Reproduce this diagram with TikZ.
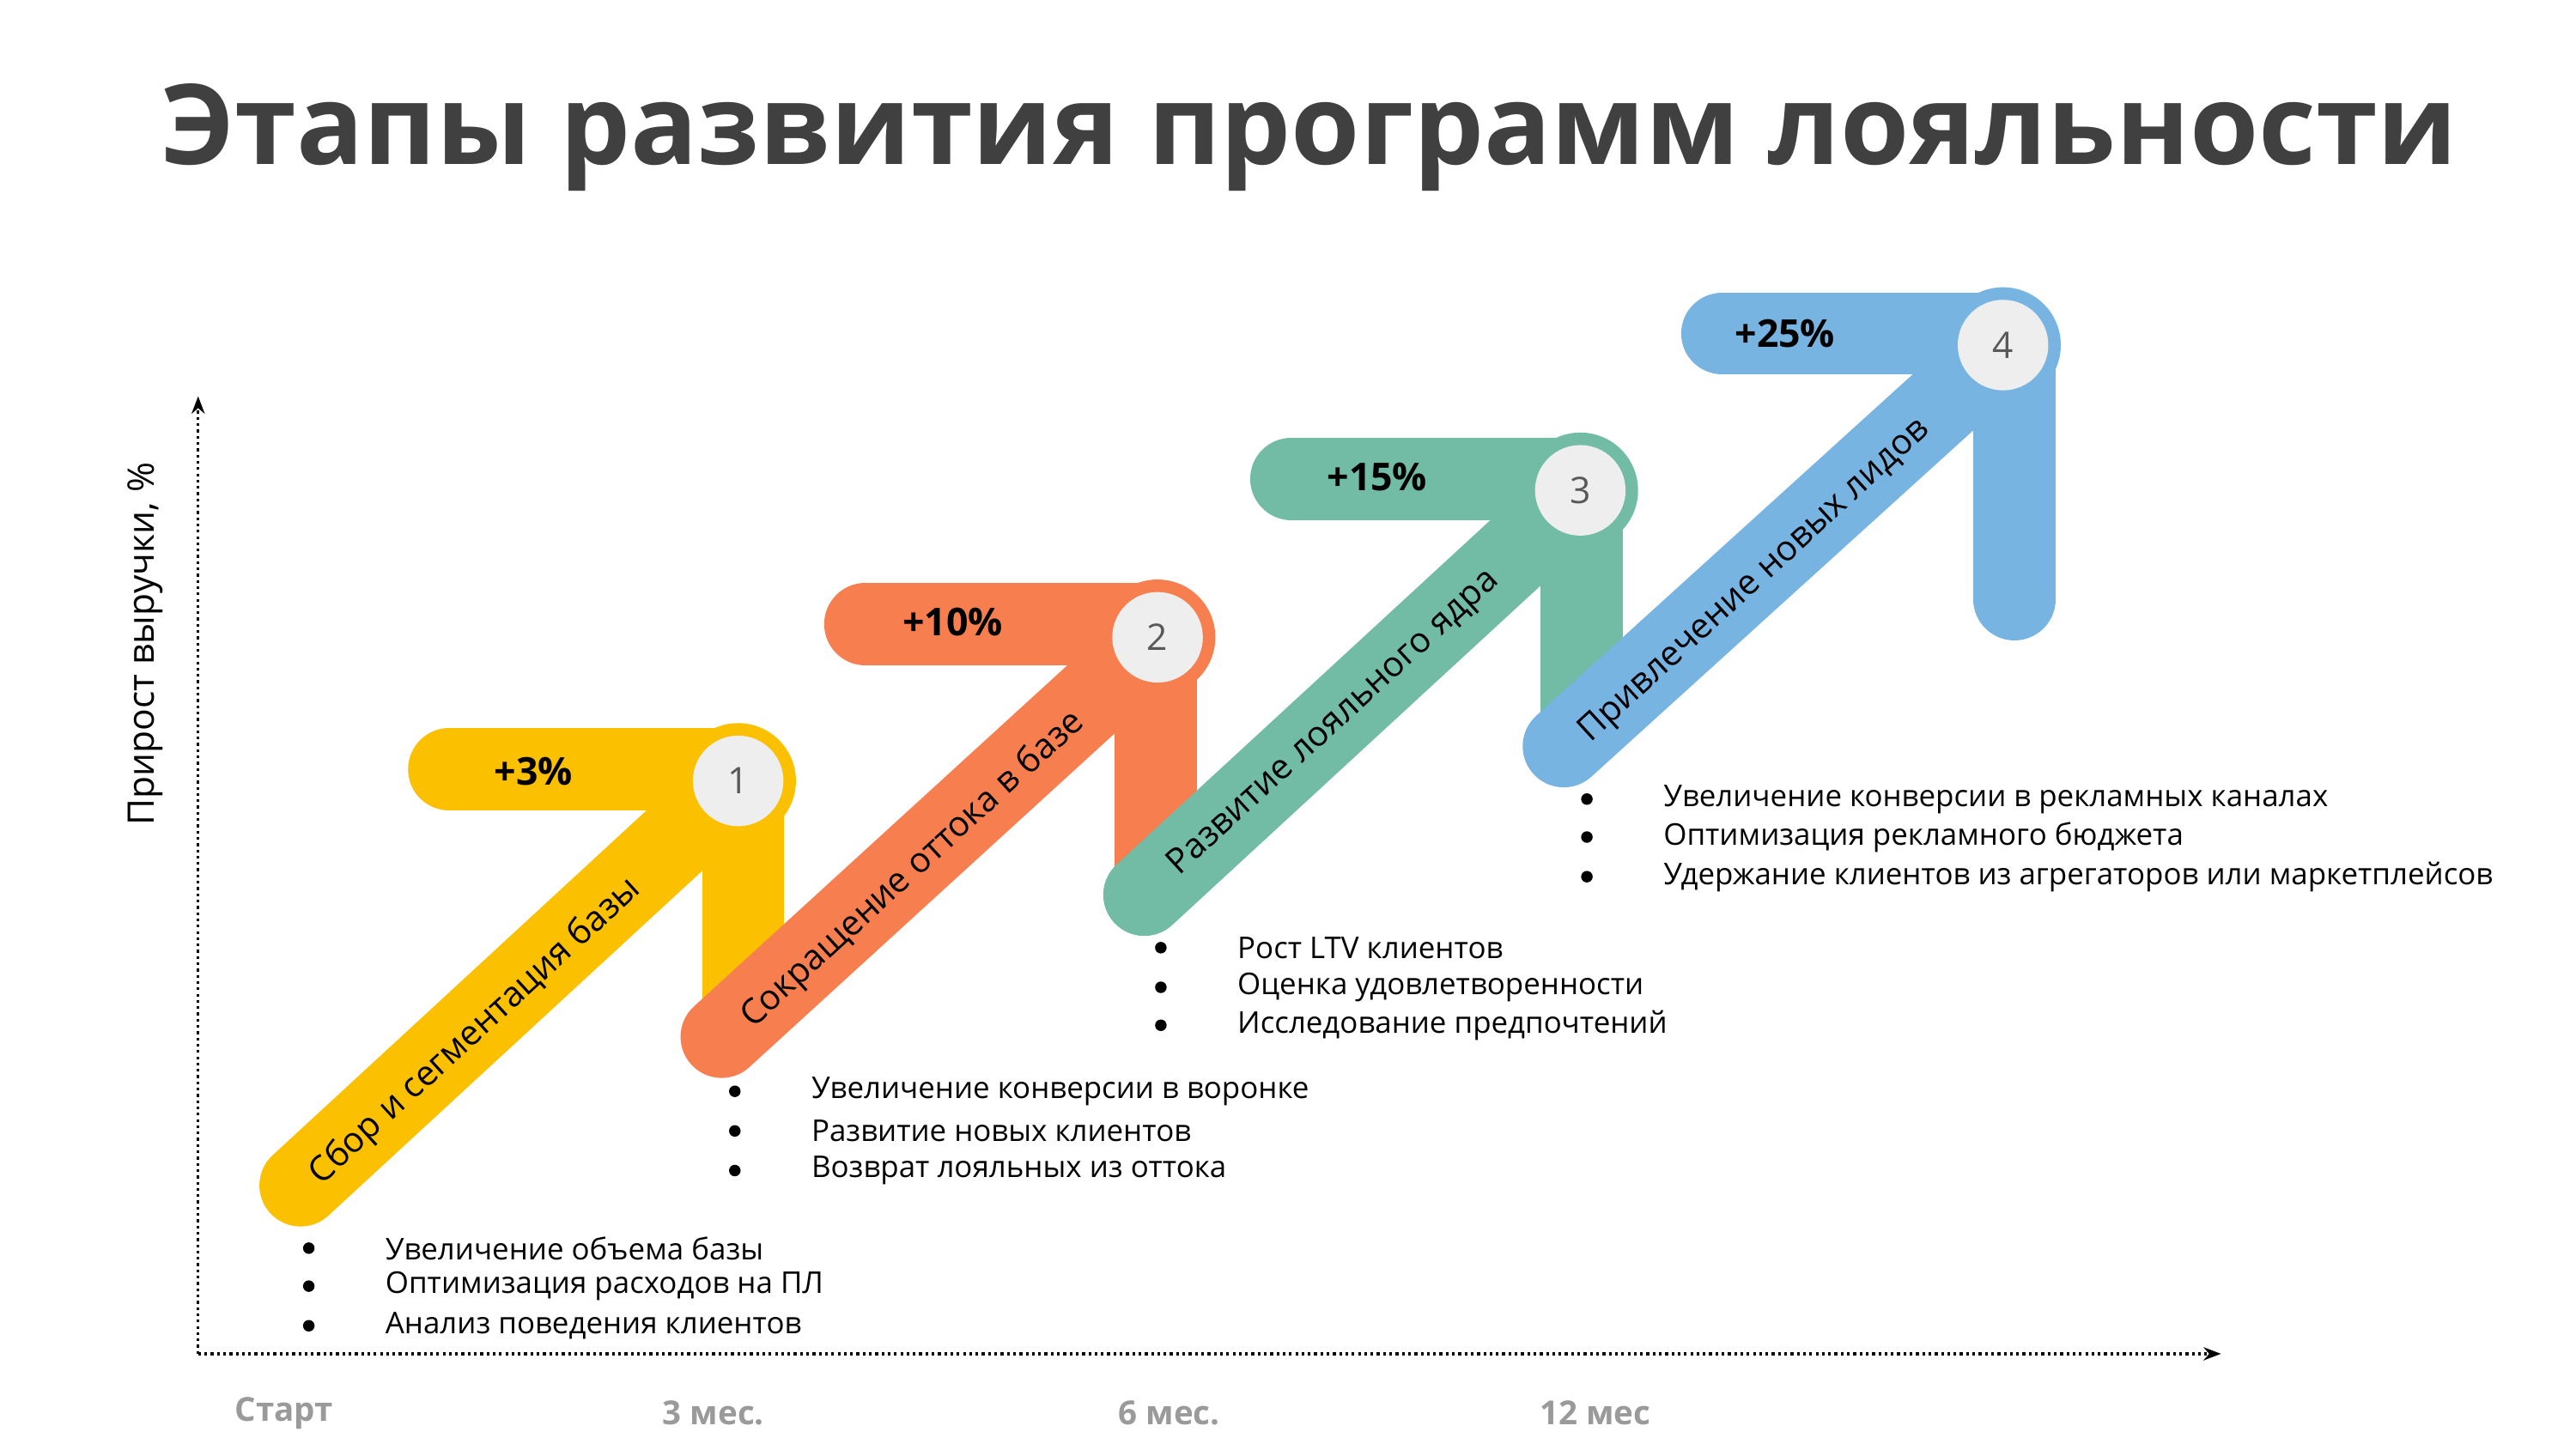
\documentclass[tikz,border=0pt]{standalone}
\usepackage{fontspec}
\setmainfont{Open Sans}
\usetikzlibrary{arrows.meta, positioning}
\definecolor{cyellow}{HTML}{FBC000}
\definecolor{corange}{HTML}{F77F4F}
\definecolor{cgreen}{HTML}{72BBA4}
\definecolor{cblue}{HTML}{78B4E2}
\definecolor{ctitle}{HTML}{404040}
\definecolor{cgray}{HTML}{9A9A9A}
\definecolor{cdisk}{HTML}{EEEEEE}
\tikzset{
    band/.style={line width=23.6pt, line cap=round},
    stem/.style={line width=23.6pt, line cap=butt},
    pct/.style={font=\bfseries\fontsize{11}{13}\selectfont, text=black},
    num/.style={circle, fill=cdisk, minimum size=26pt, inner sep=0pt, font=\fontsize{10.5}{12}\selectfont, text=black!65},
    stagelabel/.style={rotate=42.5, font=\fontsize{10}{12}\selectfont, text=black},
    item/.style={anchor=west, inner sep=0pt, font=\fontsize{8.6}{10}\selectfont, text=black},
    tick/.style={font=\bfseries\fontsize{9.5}{11}\selectfont, text=cgray}
}
\begin{document}
\begin{tikzpicture}[x=0.016667cm, y=-0.016667cm]
\useasboundingbox (0,0) rectangle (1560,878);

\node[font=\bfseries\fontsize{32}{36}\selectfont, text=ctitle] (title) at (793,83) {Этапы развития программ лояльности};

% axes
\coordinate (o) at (120,820);
\coordinate (ytop) at (120,240);
\coordinate (xend) at (1345,820);
\draw[densely dotted, thick, -{Stealth[length=5pt]}] (o) -- (ytop);
\draw[densely dotted, thick, -{Stealth[length=5pt]}] (o) -- (xend);
\node[rotate=90, font=\fontsize{10.5}{12}\selectfont] (ylab) at (88,390) {Прирост выручки, \%};
\node[tick] (t0) at (172,856) {Старт};
\node[tick] (t1) at (432,856) {3 мес.};
\node[tick] (t2) at (708,856) {6 мес.};
\node[tick] (t3) at (966,856) {12 мес};

% stage 1
\draw[stem, cyellow] (450,470) -- (450,610);
\draw[band, cyellow] (272,466) -- (450,466);
\draw[band, cyellow] (182,718) -- (440,480);
\fill[cyellow] (447,473) circle (35);
\node[num] (n1) at (447,473) {1};
\node[pct] (p1) at (323,467) {+3\%};
\node[stagelabel] (s1) at (288,625) {Сбор и сегментация базы};

% stage 2
\draw[stem, corange] (700,390) -- (700,525);
\draw[band, corange] (524,378) -- (700,378);
\draw[band, corange] (437,628) -- (692,395);
\fill[corange] (701,386) circle (35);
\node[num] (n2) at (701,386) {2};
\node[pct] (p2) at (577,377) {+10\%};
\node[stagelabel] (s2) at (553,527) {Сокращение оттока в базе};

% stage 3
\draw[stem, cgreen] (958,300) -- (958,440);
\draw[band, cgreen] (782,290) -- (958,290);
\draw[band, cgreen] (693,542) -- (948,307);
\fill[cgreen] (957,297) circle (35);
\node[num] (n3) at (957,297) {3};
\node[pct] (p3) at (834,289) {+15\%};
\node[stagelabel] (s3) at (808,438) {Развитие лояльного ядра};

% stage 4
\draw[band, cblue] (1220,215) -- (1220,363);
\draw[band, cblue] (1043,202) -- (1215,202);
\draw[band, cblue] (947,452) -- (1205,218);
\fill[cblue] (1213,209) circle (35);
\node[num] (n4) at (1213,209) {4};
\node[pct] (p4) at (1081,202) {+25\%};
\node[stagelabel] (s4) at (1063,352) {Привлечение новых лидов};

% lists
\foreach \bx/\y/\txt in {
    187/756/Увеличение объема базы,
    187/779/Оптимизация расходов на ПЛ,
    187/803/Анализ поведения клиентов,
    445/661/Увеличение конверсии в воронке,
    445/685/Развитие новых клиентов,
    445/709/Возврат лояльных из оттока,
    703/574/Рост LTV клиентов,
    703/598/Оценка удовлетворенности,
    703/621/Исследование предпочтений,
    961/484/Увеличение конверсии в рекламных каналах,
    961/507/Оптимизация рекламного бюджета,
    961/531/Удержание клиентов из агрегаторов или маркетплейсов}{
    \fill (\bx,\y) circle (3.5) coordinate (b\bx\y);
    \node[item] (i\bx\y) at (\bx+46,\y) {\txt};
}
\end{tikzpicture}
\end{document}
